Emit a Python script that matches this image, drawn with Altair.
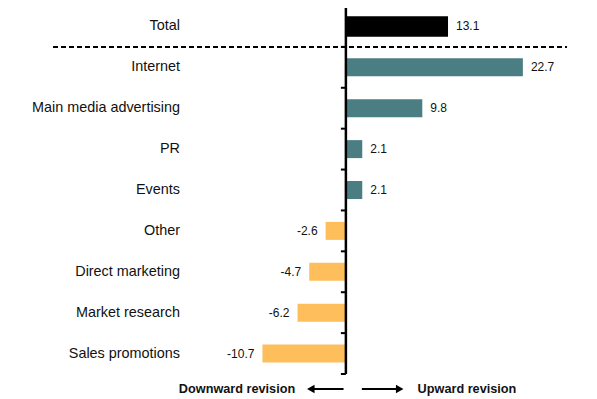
import altair as alt
import pandas as pd

categories = ["Total", "Internet", "Main media advertising", "PR", "Events",
              "Other", "Direct marketing", "Market research", "Sales promotions"]
values = [13.1, 22.7, 9.8, 2.1, 2.1, -2.6, -4.7, -6.2, -10.7]
groups = ["Total", "Up", "Up", "Up", "Up", "Down", "Down", "Down", "Down"]
colors = {"Total": "#000000", "Up": "#4A7E83", "Down": "#FDBE5B"}

rows = []
for i, (c, v, g) in enumerate(zip(categories, values, groups)):
    half = 0.25 if g == "Total" else 0.22
    rows.append({"cat": c, "val": v, "grp": g, "idx": i,
                 "y0": i - half, "y1": i + half, "lbl": f"{v:.1f}",
                 "zero": 0})
df = pd.DataFrame(rows)

W, H = 538, 368
XD = [-40, 29]
ydom = [-0.5, 8.5]
xs = alt.Scale(domain=XD, nice=False, zero=False)
ys = alt.Scale(domain=ydom, reverse=True, nice=False, zero=False)

base = alt.Chart(df)

bars = base.mark_rect().encode(
    x=alt.X("zero:Q", scale=xs, axis=None),
    x2="val:Q",
    y=alt.Y("y0:Q", scale=ys, axis=None),
    y2="y1:Q",
    color=alt.Color("grp:N", scale=alt.Scale(domain=list(colors.keys()),
                                             range=list(colors.values())),
                    legend=None),
)

pos_lbl = base.transform_filter("datum.val >= 0").mark_text(
    align="left", dx=8, fontSize=12, font="Liberation Sans", color="#111"
).encode(x=alt.X("val:Q", scale=xs, axis=None),
         y=alt.Y("idx:Q", scale=ys, axis=None), text="lbl:N")

neg_lbl = base.transform_filter("datum.val < 0").mark_text(
    align="right", dx=-8, fontSize=12, font="Liberation Sans", color="#111"
).encode(x=alt.X("val:Q", scale=xs, axis=None),
         y=alt.Y("idx:Q", scale=ys, axis=None), text="lbl:N")

cat_lbl = base.mark_text(
    align="right", fontSize=14.4, font="Liberation Sans", color="#111"
).encode(x=alt.value(146), y=alt.Y("idx:Q", scale=ys, axis=None), text="cat:N")

# zero axis line and boundary ticks
bounds = pd.DataFrame({"b": [i - 0.5 for i in range(10)], "zero": 0})
zero_line = alt.Chart(pd.DataFrame({"zero": [0], "a": [ydom[0]], "b": [ydom[1]]})).mark_rule(
    strokeWidth=2.5, color="black"
).encode(x=alt.X("zero:Q", scale=xs, axis=None),
         y=alt.Y("a:Q", scale=ys, axis=None), y2="b:Q")
ticks = alt.Chart(bounds).mark_rule(strokeWidth=2, color="black", x2Offset=-5).encode(
    x=alt.X("zero:Q", scale=xs, axis=None), x2="zero:Q",
    y=alt.Y("b:Q", scale=ys, axis=None)
)

sep = alt.Chart(pd.DataFrame({"y": [0.5]})).mark_rule(
    strokeDash=[5, 3], strokeWidth=2, color="black"
).encode(x=alt.value(19), x2=alt.value(533), y=alt.Y("y:Q", scale=ys, axis=None))

AY = H + 15
ann = pd.DataFrame({
    "x": [-6.5, 9.2],
    "t": ["Downward revision", "Upward revision"],
})
down_txt = alt.Chart(ann.iloc[[0]]).mark_text(
    align="right", fontSize=12.7, fontWeight="bold", font="Liberation Sans", color="#111"
).encode(x=alt.X("x:Q", scale=xs, axis=None), y=alt.value(AY), text="t:N")
up_txt = alt.Chart(ann.iloc[[1]]).mark_text(
    align="left", fontSize=12.7, fontWeight="bold", font="Liberation Sans", color="#111"
).encode(x=alt.X("x:Q", scale=xs, axis=None), y=alt.value(AY), text="t:N")

arrows = pd.DataFrame({"x1": [-0.3, 2.05], "x2": [-4.6, 7.0]})
arrow_lines = alt.Chart(arrows).mark_rule(strokeWidth=2, color="black").encode(
    x=alt.X("x1:Q", scale=xs, axis=None), x2="x2:Q", y=alt.value(AY)
)
heads = pd.DataFrame({"x": [-4.5, 6.9]})
left_head = alt.Chart(heads.iloc[[0]]).mark_point(
    shape="triangle-left", filled=True, size=75, color="black", opacity=1
).encode(x=alt.X("x:Q", scale=xs, axis=None), y=alt.value(AY))
right_head = alt.Chart(heads.iloc[[1]]).mark_point(
    shape="triangle-right", filled=True, size=75, color="black", opacity=1
).encode(x=alt.X("x:Q", scale=xs, axis=None), y=alt.value(AY))

chart = alt.layer(
    bars, pos_lbl, neg_lbl, cat_lbl, sep, zero_line, ticks, down_txt, up_txt,
    arrow_lines, left_head, right_head
).properties(
    width=W, height=H,
    padding={"left": 26, "top": -2, "right": 0, "bottom": 30},
    autosize=alt.AutoSizeParams(type="none"),
    background="white",
).configure_view(stroke=None)

chart.save("out.html", embed_options={"renderer": "svg", "actions": False})
